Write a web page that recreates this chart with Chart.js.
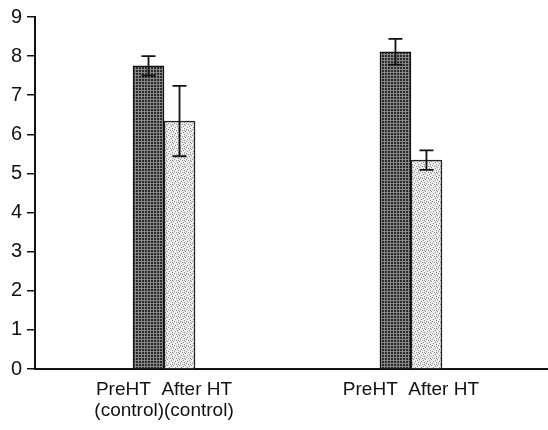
<!DOCTYPE html>
<html>
<head>
<meta charset="utf-8">
<script src="https://cdn.jsdelivr.net/npm/chart.js@4"></script>
<style>
  html, body { margin: 0; padding: 0; background: #fff; }
  #wrap { width: 548px; height: 430px; }
</style>
</head>
<body>
<div id="wrap"><canvas id="htChart"></canvas></div>
<script>
// data
const groupPositions = [1, 3];
const groupLabels = [['PreHT  After HT', '(control)(control)'], ['PreHT  After HT']];
const preHT = [7.75, 8.11];
const preHTErr = [0.25, 0.33];
const afterHT = [6.34, 5.34];
const afterHTErr = [0.9, 0.25];
const yTicks = [0, 1, 2, 3, 4, 5, 6, 7, 8, 9];

// hatch fills, like the scanned bars
function makePattern(bg, dot, size, dots) {
    const c = document.createElement('canvas');
    c.width = size;
    c.height = size;
    const g = c.getContext('2d');
    g.fillStyle = bg;
    g.fillRect(0, 0, size, size);
    g.fillStyle = dot;
    dots.forEach(d => g.fillRect(d[0], d[1], 1, 1));
    return g.createPattern(c, 'repeat');
}
const darkFill = makePattern('#2a2a2a', '#888', 3, [[0, 0], [1, 0], [2, 0], [0, 1], [0, 2]]);
const lightFill = makePattern('#eeeeee', '#8c8c8c', 6,
    [[1, 1], [4, 2], [2, 4], [5, 5], [0, 3], [3, 0], [4, 4]]);

const errorBars = {
    id: 'errorBars',
    afterDatasetsDraw(chart) {
        const ctx = chart.ctx;
        const y = chart.scales.y;
        chart.data.datasets.forEach((ds, i) => {
            chart.getDatasetMeta(i).data.forEach((bar, j) => {
                const v = ds.data[j].y;
                const e = ds.errors[j];
                const top = y.getPixelForValue(v + e);
                const bot = y.getPixelForValue(v - e);
                ctx.save();
                ctx.strokeStyle = '#111';
                ctx.lineWidth = 1.8;
                ctx.beginPath();
                ctx.moveTo(bar.x, top);
                ctx.lineTo(bar.x, bot);
                ctx.moveTo(bar.x - 7, top);
                ctx.lineTo(bar.x + 7, top);
                ctx.moveTo(bar.x - 7, bot);
                ctx.lineTo(bar.x + 7, bot);
                ctx.stroke();
                ctx.restore();
            });
        });
    }
};

Chart.defaults.font.family = '"Liberation Sans", Arial, sans-serif';
Chart.defaults.font.size = 19;
Chart.defaults.color = '#111';

const ctx = document.getElementById('htChart').getContext('2d');
const htChart = new Chart(ctx, {
    type: 'bar',
    data: {
        datasets: [
            {
                label: 'PreHT',
                data: groupPositions.map((x, i) => ({ x: x, y: preHT[i] })),
                errors: preHTErr,
                backgroundColor: darkFill,
                borderColor: '#111',
                borderWidth: 1.5,
                borderSkipped: 'bottom',
                barThickness: 31
            },
            {
                label: 'After HT',
                data: groupPositions.map((x, i) => ({ x: x, y: afterHT[i] })),
                errors: afterHTErr,
                backgroundColor: lightFill,
                borderColor: '#222',
                borderWidth: 1.5,
                borderSkipped: 'bottom',
                barThickness: 31
            }
        ]
    },
    options: {
        responsive: true,
        maintainAspectRatio: false,
        animation: false,
        layout: { padding: { top: 17, right: 0, bottom: 0, left: 0 } },
        scales: {
            x: {
                type: 'linear',
                offset: false,
                min: -0.045,
                max: 4.11,
                afterBuildTicks: axis => {
                    axis.ticks = groupPositions.map(v => ({ value: v }));
                },
                afterFit: axis => { axis.height = 61; },
                grid: { display: false, drawTicks: false },
                border: { display: true, color: '#111', width: 2 },
                ticks: {
                    autoSkip: false,
                    maxRotation: 0,
                    padding: 10,
                    font: { lineHeight: 1.1 },
                    callback: value => groupLabels[groupPositions.indexOf(value)]
                }
            },
            y: {
                min: 0,
                max: 9,
                afterBuildTicks: axis => {
                    axis.ticks = yTicks.map(v => ({ value: v }));
                },
                afterFit: axis => { axis.width = 35; },
                grid: { drawOnChartArea: false, color: '#111', tickLength: 8, lineWidth: 1.5 },
                border: { color: '#111', width: 2 },
                ticks: { padding: 5, font: { size: 20 } }
            }
        },
        plugins: {
            legend: { display: false },
            tooltip: { enabled: false }
        }
    },
    plugins: [errorBars]
});
</script>
</body>
</html>
